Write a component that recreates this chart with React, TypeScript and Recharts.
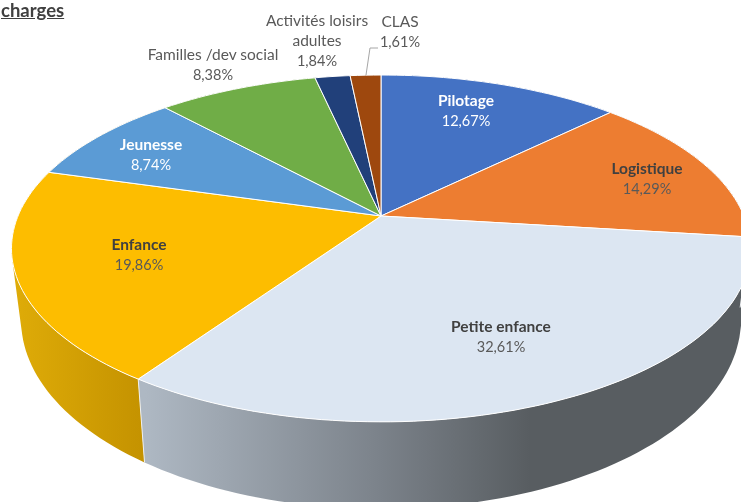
import React from 'react';
import { PieChart, Pie } from 'recharts';

const categories = ['Pilotage', 'Logistique', 'Petite enfance', 'Enfance', 'Jeunesse', 'Familles /dev social', 'Activités loisirs adultes', 'CLAS'];
const shares = [12.67, 14.29, 32.61, 19.86, 8.74, 8.38, 1.84, 1.61];
const colors = ['#4472c4', '#ed7d31', '#dce6f2', '#fdbd00', '#5b9bd5', '#70ad47', '#21407a', '#9e480e'];
const sideColors = ['#335596', '#585d61', 'url(#sidePetite)', 'url(#sideEnfance)', '#dfac08', '#548235', '#192f5a', '#77360a'];

// label centre x, first line y, lines, bold name?, text colour
const labelSpots: any[] = [
  { x: 466, y: 106, lines: ['Pilotage'], bold: true, fill: '#ffffff', valueFill: '#ffffff' },
  { x: 647, y: 174, lines: ['Logistique'], bold: true, fill: '#404040', valueFill: '#595959' },
  { x: 501, y: 332, lines: ['Petite enfance'], bold: true, fill: '#404040', valueFill: '#595959' },
  { x: 139, y: 250, lines: ['Enfance'], bold: true, fill: '#404040', valueFill: '#595959' },
  { x: 151, y: 150, lines: ['Jeunesse'], bold: true, fill: '#ffffff', valueFill: '#ffffff' },
  { x: 213, y: 60, lines: ['Familles /dev social'], bold: false, fill: '#595959', valueFill: '#595959' },
  { x: 317, y: 26, lines: ['Activités loisirs', 'adultes'], bold: false, fill: '#595959', valueFill: '#595959' },
  { x: 400, y: 27, lines: ['CLAS'], bold: false, fill: '#595959', valueFill: '#595959' },
];

const rows = categories.map((name, i) => ({ name, value: shares[i], fill: colors[i], side: sideColors[i] }));

// tilted disc seen in perspective, fitted on the reference
const TILT = 0.187;
const TOP_RY = 0.461;
const BOTTOM_RY = 0.5025;
const BOTTOM_RX = 0.974;
const DROP = 68.6;

function project(cx: number, cy: number, r: number, deg: number, bottom: boolean) {
  const u = Math.cos((deg * Math.PI) / 180);
  const v = Math.sin((deg * Math.PI) / 180);
  const d = 1 + TILT * v;
  const rx = bottom ? r * BOTTOM_RX : r;
  const ry = bottom ? r * BOTTOM_RY : r * TOP_RY;
  return [cx + (rx * u) / d, cy + (bottom ? DROP : 0) - (ry * v) / d];
}

function arcPoints(cx: number, cy: number, r: number, a: number, b: number, bottom: boolean) {
  const steps = Math.max(2, Math.ceil(Math.abs(b - a) / 1.5));
  const pts: number[][] = [];
  for (let i = 0; i <= steps; i++) pts.push(project(cx, cy, r, a + ((b - a) * i) / steps, bottom));
  return pts;
}

const toPath = (pts: number[][]) => pts.map((p, i) => `${i ? 'L' : 'M'}${p[0].toFixed(1)} ${p[1].toFixed(1)}`).join(' ') + ' Z';

// same winding for every quad, otherwise overlapping ones cancel out at the fold
function wound(pts: number[][]) {
  let area = 0;
  pts.forEach((p, i) => {
    const q = pts[(i + 1) % pts.length];
    area += p[0] * q[1] - q[0] * p[1];
  });
  return area < 0 ? [...pts].reverse() : pts;
}

const TopFace = (p: any) => {
  const arc = arcPoints(p.cx, p.cy, p.outerRadius, p.startAngle, p.endAngle, false);
  return <path d={toPath([[p.cx, p.cy], ...arc])} fill={p.fill} stroke="#ffffff" strokeWidth={1} strokeLinejoin="round" />;
};

// the wall is a strip of small quads, so the outline follows the tangent between both rims
const SideFace = (p: any) => {
  const top = arcPoints(p.cx, p.cy, p.outerRadius, p.startAngle, p.endAngle, false);
  const low = arcPoints(p.cx, p.cy, p.outerRadius, p.startAngle, p.endAngle, true);
  const quads = top.slice(1).map((t, i) => toPath(wound([top[i], t, low[i + 1], low[i]]))).join(' ');
  return (
    <g>
      <path d={quads} fill={p.side} />
      <line x1={top[0][0]} y1={top[0][1]} x2={low[0][0]} y2={low[0][1]} stroke="#eef0f2" strokeWidth={1} />
    </g>
  );
};

const renderLabel = (p: any) => {
  const spot = labelSpots[p.index];
  const value = shares[p.index].toFixed(2).replace('.', ',') + '%';
  const isClas = categories[p.index] === 'CLAS';
  return (
    <g>
      {isClas && <polyline points="366,75 370,48 378,48" fill="none" stroke="#a6a6a6" strokeWidth={1} />}
      {spot.lines.map((line: string, i: number) => (
        <text key={line} x={spot.x} y={spot.y + i * 20} textAnchor="middle" fontSize={15.5} fontWeight={spot.bold ? 700 : 400} fill={spot.fill} fontFamily="Lato, sans-serif">
          {line}
        </text>
      ))}
      <text x={spot.x} y={spot.y + spot.lines.length * 20} textAnchor="middle" fontSize={14.5} fill={spot.valueFill} fontFamily="Lato, sans-serif">
        {value}
      </text>
    </g>
  );
};

export default function App() {
  return (
    <div style={{ position: 'absolute', left: 0, top: 0, width: 741, height: 502, overflow: 'hidden', background: '#fff', filter: 'blur(0.45px)' }}>
      <PieChart width={741} height={502} margin={{ top: 0, right: 0, bottom: 0, left: 0 }}>
        <defs>
          <linearGradient id="sideEnfance" gradientUnits="userSpaceOnUse" x1="12" y1="0" x2="145" y2="0">
            <stop offset="0%" stopColor="#dfac08" />
            <stop offset="100%" stopColor="#c49200" />
          </linearGradient>
          <linearGradient id="sidePetite" gradientUnits="userSpaceOnUse" x1="145" y1="0" x2="530" y2="0">
            <stop offset="0%" stopColor="#aeb8c3" />
            <stop offset="60%" stopColor="#7c838b" />
            <stop offset="100%" stopColor="#585d61" />
          </linearGradient>
        </defs>
        <Pie data={rows} dataKey="value" nameKey="name" cx={381} cy={216} outerRadius={363} startAngle={90} endAngle={-270} stroke="none" shape={SideFace} isAnimationActive={false} />
        <Pie data={rows} dataKey="value" nameKey="name" cx={381} cy={216} outerRadius={363} startAngle={90} endAngle={-270} stroke="none" shape={TopFace} label={renderLabel} labelLine={false} isAnimationActive={false} />
      </PieChart>
      <div style={{ position: 'absolute', left: 1, top: 1, lineHeight: '18px', fontFamily: 'Lato, sans-serif', fontWeight: 700, fontSize: 18.5, color: '#404040', textDecoration: 'underline' }}>charges</div>
    </div>
  );
}
